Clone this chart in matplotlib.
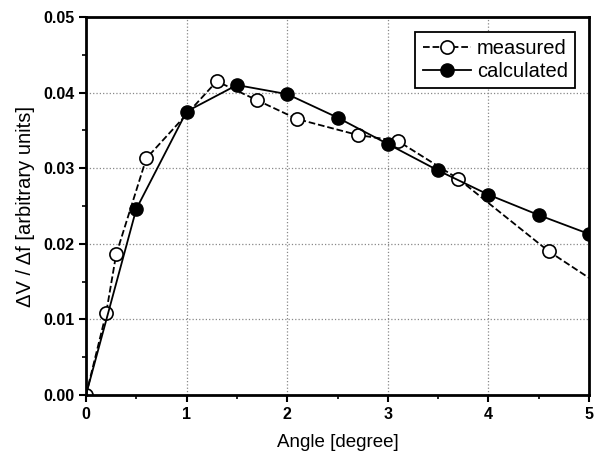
import matplotlib.pyplot as plt
from matplotlib.ticker import MultipleLocator

plt.rcParams['font.family'] = ['Liberation Sans', 'DejaVu Sans']

# measured (open circles, dashed)
meas_x = [0.0, 0.2, 0.3, 0.6, 1.3, 1.7, 2.1, 2.7, 3.1, 3.7, 4.6, 5.5]
meas_y = [0.0, 0.0108, 0.0186, 0.0313, 0.0415, 0.0390, 0.0365, 0.0344, 0.0336, 0.0286, 0.0190, 0.0111]

# calculated (filled circles, solid)
calc_x = [0.0, 0.5, 1.0, 1.5, 2.0, 2.5, 3.0, 3.5, 4.0, 4.5, 5.0]
calc_y = [0.0, 0.0246, 0.0375, 0.0410, 0.0398, 0.0367, 0.0332, 0.0297, 0.0265, 0.0238, 0.0213]

fig = plt.figure(figsize=(6, 4.55), dpi=100)
ax = fig.add_axes([0.1433, 0.1319, 0.8384, 0.8307])

ax.plot(meas_x, meas_y, color='black', linestyle='--', linewidth=1.3,
        marker='o', markersize=9.5, markerfacecolor='white',
        markeredgecolor='black', markeredgewidth=1.2, label='measured')
ax.plot(calc_x, calc_y, color='black', linestyle='-', linewidth=1.3,
        marker='o', markersize=9.5, markerfacecolor='black',
        markeredgecolor='black', markevery=slice(1, None), label='calculated')

ax.set_xlim(0, 5)
ax.set_ylim(0, 0.05)
ax.xaxis.set_major_locator(MultipleLocator(1))
ax.xaxis.set_minor_locator(MultipleLocator(0.5))
ax.yaxis.set_major_locator(MultipleLocator(0.01))
ax.yaxis.set_minor_locator(MultipleLocator(0.005))
ax.set_yticklabels([f'{v:.2f}' for v in ax.get_yticks()])

ax.grid(True, which='major', color='#888888', linestyle=':', linewidth=0.9)
ax.tick_params(which='major', direction='out', length=5, width=1.5, labelsize=11.5)
ax.tick_params(which='minor', direction='out', length=3, width=1.2)
for lbl in ax.get_xticklabels() + ax.get_yticklabels():
    lbl.set_fontweight('bold')
for sp in ax.spines.values():
    sp.set_linewidth(2)

ax.set_xlabel('Angle [degree]', fontsize=13.5, labelpad=9)
ax.set_ylabel('ΔV / Δf [arbitrary units]', fontsize=14.5, labelpad=6)

leg = ax.legend(loc='upper right', fontsize=14.5, fancybox=False, framealpha=1,
                edgecolor='black', handlelength=2.4, borderpad=0.35,
                labelspacing=0.2, handletextpad=0.3, bbox_to_anchor=(0.972, 0.96),
                borderaxespad=0)
leg.get_frame().set_linewidth(1.3)

fig.savefig('out.png', dpi=100)
